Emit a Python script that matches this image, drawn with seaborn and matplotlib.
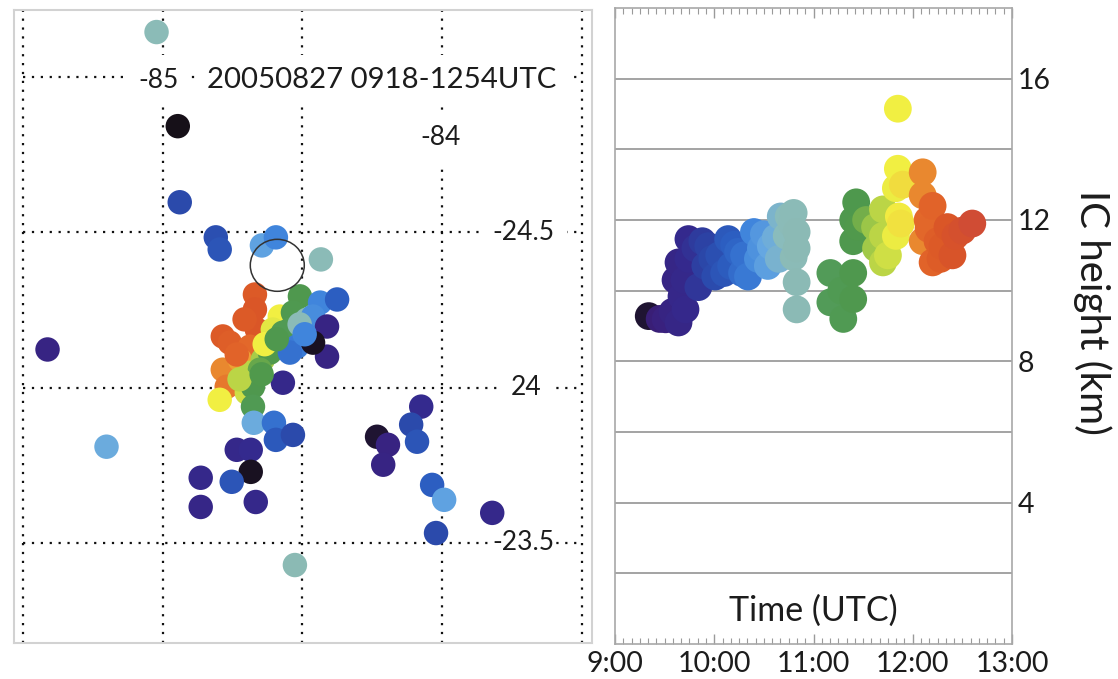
import matplotlib
matplotlib.use("Agg")
import matplotlib.pyplot as plt
import seaborn as sns
from matplotlib.colors import LinearSegmentedColormap, Normalize
from matplotlib.patches import Ellipse
from matplotlib.ticker import FixedLocator, MultipleLocator

# ---- flash locations (deg) and flash times (decimal hours, UTC) ----
flash_lon = [-85.022, -84.946, -84.939, -84.810, -84.796, -84.645, -84.595, -84.434,
             -84.670, -84.670, -84.785, -84.760, -84.663, -84.688, -84.785, -84.771, -84.724,
             -84.796, -84.581, -84.606, -84.688, -84.642, -84.699,
             -84.509, -84.534, -84.570, -84.616, -84.652, -84.677, -84.677, -84.545,
             -84.484, -84.437, -84.376, -84.462, -84.520, -84.545,
             -84.412, -84.412, -84.570, -84.462,
             -85.412, -85.201, -84.674, -84.602, -84.595, -84.534, -84.735, -84.685, -84.685,
             -84.864, -84.864, -84.667, -84.753, -84.527,
             -84.233, -84.194, -84.211, -84.075, -84.111, -84.090, -84.036, -83.993, -84.022, -83.821,
             -84.707, -84.735, -84.635, -84.592, -84.725, -84.510, -84.492, -84.646]
flash_lat = [25.145, 24.842, 24.597, 24.484, 24.445, 24.458, 24.484, 24.413,
             24.300, 24.252, 24.165, 24.145, 24.187, 24.132, 24.058, 24.003, 24.090,
             23.961, 24.229, 24.187, 24.048, 24.090, 23.984,
             24.294, 24.242, 24.177, 24.113, 24.058, 24.003, 23.939, 24.187,
             24.219, 24.274, 24.284, 24.229, 24.132, 24.113,
             24.197, 24.100, 24.016, 24.145,
             24.123, 23.810, 23.887, 23.887, 23.832, 23.848, 23.800, 23.800, 23.729,
             23.710, 23.616, 23.632, 23.697, 23.429,
             23.842, 23.816, 23.752, 23.939, 23.881, 23.826, 23.687, 23.639, 23.532, 23.597,
             24.220, 24.107, 24.140, 24.156, 24.027, 24.204, 24.172, 24.043]
flash_hour = [10.8, 9.3, 10.0, 10.05, 10.1, 10.55, 10.4, 10.8,
              12.3, 12.35, 12.3, 12.25, 12.35, 12.15, 12.1, 12.12, 12.05,
              11.85, 11.85, 11.8, 11.7, 11.65, 11.75,
              11.4, 11.35, 11.3, 11.45, 11.5, 11.4, 11.3, 11.25,
              10.8, 10.4, 10.2, 10.45, 10.35, 10.3,
              9.6, 9.6, 9.7, 9.32,
              9.6, 10.6, 10.6, 10.3, 10.15, 10.0, 9.7, 9.75, 9.32,
              9.7, 9.65, 9.7, 10.1, 10.85,
              9.35, 9.55, 9.6, 9.75, 10.0, 10.1, 10.2, 10.55, 10.0, 9.7,
              12.3, 12.2, 11.85, 11.4, 11.7, 10.8, 10.4, 11.45]

# ---- IC flash time (decimal hours, UTC) and height (km) ----
ic_hour = [9.34, 9.51, 9.64, 9.71, 9.67, 9.61, 9.64, 9.74, 9.81, 9.91,
           9.84, 9.94, 10.01, 10.14, 10.17, 10.24, 10.34, 10.40, 10.44, 10.54,
           10.57, 10.67, 10.73, 10.80, 10.83, 10.83, 10.83, 10.83, 11.17, 11.17,
           11.30, 11.40, 11.40, 11.40, 11.43, 11.53, 11.63, 11.70, 11.70, 11.70,
           11.83, 11.83, 11.85, 11.85, 11.86, 12.10, 12.10, 12.10, 12.16, 12.20,
           12.20, 12.30, 12.40, 12.43, 12.60,
           9.45, 9.58, 9.70, 9.74, 9.88, 9.98, 10.05, 10.10, 10.20, 10.28,
           10.30, 10.47, 10.50, 10.62, 10.65, 10.75, 10.80, 10.78, 11.28, 11.40,
           11.45, 11.62, 11.75, 11.90, 11.88, 12.15, 12.25, 12.35, 12.28, 12.50]
ic_height = [9.28, 9.19, 9.10, 9.47, 9.84, 10.30, 10.80, 11.46, 11.20, 10.70,
             10.10, 11.26, 10.40, 11.46, 10.70, 11.10, 10.40, 11.66, 10.90, 10.70,
             11.26, 12.10, 11.55, 12.20, 11.66, 11.20, 10.24, 9.47, 10.50, 9.67,
             9.20, 10.50, 9.76, 11.40, 12.50, 12.00, 11.20, 12.30, 11.55, 10.80,
             12.90, 11.55, 15.15, 13.45, 12.10, 13.35, 12.70, 11.40, 11.75, 12.40,
             10.80, 11.26, 11.00, 11.55, 11.90,
             9.20, 9.40, 10.30, 10.90, 11.40, 10.90, 11.00, 10.50, 11.30, 10.50,
             11.00, 11.20, 11.60, 11.50, 10.90, 12.10, 10.95, 11.90, 10.00, 12.00,
             11.80, 11.80, 11.00, 13.00, 11.90, 12.00, 11.40, 11.80, 10.90, 11.70]

# ---- tick values and labels ----
lon_grid = [-85.5, -85.0, -84.5, -84.0, -83.5]
lat_grid = [25.0, 24.5, 24.0, 23.5]
lon_label_text = ["-85", "-84"]
lat_label_text = ["-24.5", "24", "-23.5"]
hour_ticks = [9, 10, 11, 12, 13]
hour_labels = ["9:00", "10:00", "11:00", "12:00", "13:00"]
height_ticks = [4, 8, 12, 16]
height_grid = [2, 4, 6, 8, 10, 12, 14, 16]
title_text = "20050827 0918-1254UTC"

# ---- time colour scale ----
stop_hours = [9.30, 9.45, 9.75, 9.95, 10.20, 10.40, 10.58, 10.72, 10.90,
              11.15, 11.45, 11.65, 11.85, 12.05, 12.15, 12.35, 12.65]
stop_colors = ["#161018", "#3a1f7a", "#342a8e", "#2b45a6", "#2c5fc2", "#3f84dc",
               "#66a8e2", "#8abcbd", "#8cb9b0", "#529b59", "#4e984c", "#a6cc48",
               "#f2ef42", "#efa634", "#e3682a", "#da5626", "#cf4a36"]
t0, t1 = stop_hours[0], stop_hours[-1]
time_cmap = LinearSegmentedColormap.from_list(
    "flash_time", [((h - t0) / (t1 - t0), c) for h, c in zip(stop_hours, stop_colors)])
time_norm = Normalize(t0, t1)

sns.set_style("white")
plt.rcParams["font.family"] = ["Lato", "DejaVu Sans"]
text_color = "#1c1c1c"

W, H = 1118, 679
fig = plt.figure(figsize=(W / 100, H / 100), dpi=100)

def px_axes(x0, y0, x1, y1):
    return fig.add_axes([x0 / W, 1 - y1 / H, (x1 - x0) / W, (y1 - y0) / H])

# ================= map panel =================
ax_map = px_axes(14, 10, 592, 643)
ax_map.set_xlim(-85.532, -83.464)
ax_map.set_ylim(23.178, 25.216)
dot = (0, (1, 3))
for lon in lon_grid:
    ax_map.axvline(lon, color="#111111", lw=1.6, ls=dot, zorder=1)
for lat in lat_grid:
    ax_map.hlines(lat, lon_grid[0], lon_grid[-1], color="#111111", lw=1.6,
                  linestyles=[dot], zorder=1)

sns.scatterplot(x=flash_lon, y=flash_lat, hue=flash_hour, palette=time_cmap,
                hue_norm=time_norm, s=310, linewidth=0, legend=False,
                ax=ax_map, zorder=3)
ax_map.add_patch(Ellipse((-84.59, 24.394), 54 / 279.5, 52 / 310.7, fill=False,
                         edgecolor="#333333", lw=1.1, zorder=4))

box = dict(facecolor="white", edgecolor="none", pad=9)
ax_map.text(-84.216, 24.99, title_text, fontsize=21.2, color=text_color,
            ha="center", va="center", bbox=box, zorder=5)
ax_map.text(-85.014, 24.99, lon_label_text[0], fontsize=19, color=text_color,
            ha="center", va="center", bbox=box, zorder=5)
ax_map.text(-84.007, 24.805, lon_label_text[1], fontsize=19, color=text_color,
            ha="center", va="center", bbox=box, zorder=5)
lat_label_lon = [-83.71, -83.70, -83.71]
lat_label_pad = [9, 9, 1.5]
for lat, txt, lx, pd in zip(lat_grid[1:], lat_label_text, lat_label_lon, lat_label_pad):
    ax_map.text(lx, lat, txt, fontsize=19, color=text_color, ha="center",
                va="center", zorder=5,
                bbox=dict(facecolor="white", edgecolor="none", pad=pd))

ax_map.set_xticks([])
ax_map.set_yticks([])
for sp in ax_map.spines.values():
    sp.set_color("#d2d2d2")
    sp.set_linewidth(1.5)

# ================= height-time panel =================
ax_ic = px_axes(615, 8, 1012, 644)
ax_ic.set_xlim(hour_ticks[0], hour_ticks[-1])
ax_ic.set_ylim(0, 18)
for h in height_grid:
    ax_ic.axhline(h, color="#8a8a8a", lw=1.1, zorder=1)

order = sorted(range(len(ic_hour)), key=lambda i: ic_hour[i])
sns.scatterplot(x=[ic_hour[i] for i in order], y=[ic_height[i] for i in order],
                hue=[ic_hour[i] for i in order], palette=time_cmap,
                hue_norm=time_norm, s=400, linewidth=0, legend=False,
                ax=ax_ic, zorder=3)

ax_ic.xaxis.set_major_locator(FixedLocator(hour_ticks))
ax_ic.set_xticklabels(hour_labels)
ax_ic.xaxis.set_minor_locator(MultipleLocator(5 / 60))
ax_ic.tick_params(axis="x", which="both", direction="in", top=True, bottom=True,
                  colors="#9a9a9a", labelcolor=text_color, labelsize=20.5, pad=5)
ax_ic.tick_params(axis="x", which="major", length=7, width=1)
ax_ic.tick_params(axis="x", which="minor", length=4, width=0.8)
ax_ic.yaxis.tick_right()
ax_ic.set_yticks(height_ticks)
ax_ic.set_yticklabels([str(v) for v in height_ticks])
ax_ic.tick_params(axis="y", length=0, labelsize=20.5, labelcolor=text_color, pad=4)
ax_ic.set_xlabel("")
ax_ic.set_ylabel("")
for sp in ax_ic.spines.values():
    sp.set_color("#a8a8a8")
    sp.set_linewidth(1.2)

ax_ic.text(11.0, 0.95, "Time (UTC)", fontsize=24.5, color=text_color,
           ha="center", va="center", zorder=5)
fig.text(1092 / W, 1 - 312 / H, "IC height (km)", fontsize=29, color=text_color,
         rotation=270, ha="center", va="center")

fig.savefig("out.png", dpi=100, facecolor="white")
